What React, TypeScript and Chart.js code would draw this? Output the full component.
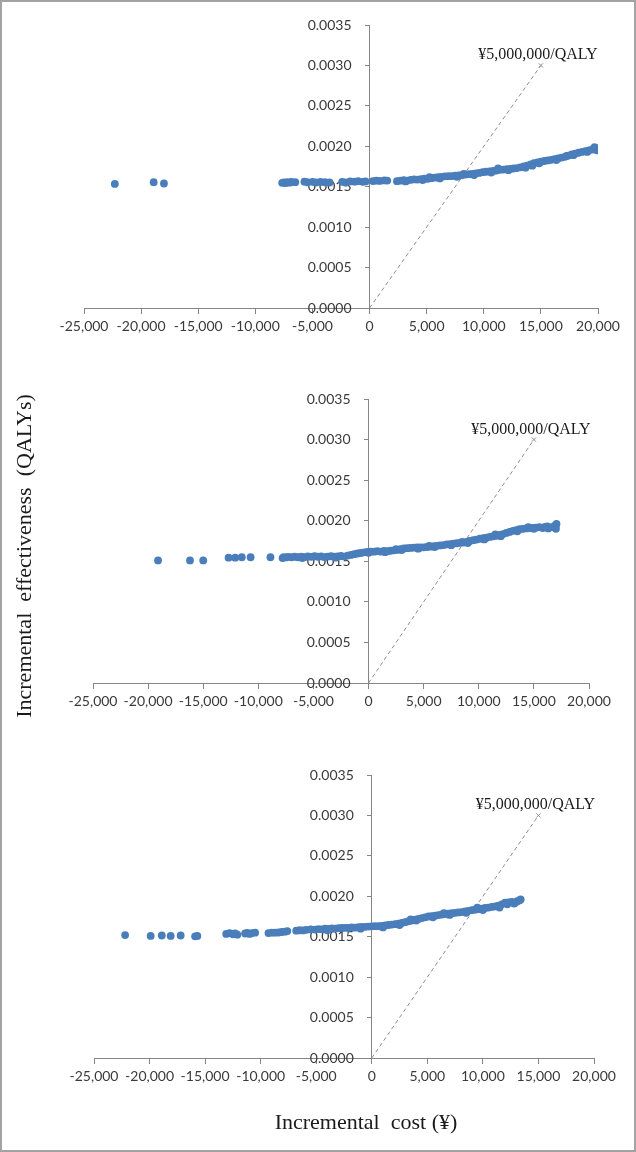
import React, { useEffect, useRef } from "react";
import { Chart, registerables, LinearScale } from "chart.js";

// A linear scale whose labels keep the tick length + padding gap even when the
// axis is positioned at a data value (Chart.js omits that gap for y axes).
class CrossLinearScale extends (LinearScale as any) {
  static id = "crossLinear";
  static defaults = (LinearScale as any).defaults;
  _computeLabelItems(chartArea: any) {
    const items = super._computeLabelItems(chartArea);
    const opts: any = (this as any).options;
    if ((this as any).axis === "y") {
      const gap = (opts.grid.tickLength || 0) + (opts.ticks.padding || 0);
      items.forEach((it: any) => {
        it.options.translation = [it.options.translation[0] - gap, it.options.translation[1]];
      });
    }
    return items;
  }
}

Chart.register(...registerables, CrossLinearScale as any);

// ---------- axes ----------
const COST_MIN = -25000;
const COST_MAX = 20000;
const COST_STEP = 5000;
const QALY_MIN = 0;
const QALY_MAX = 0.0035;
const QALY_STEP = 0.0005;

// ---------- willingness-to-pay threshold line ----------
const THRESHOLD_LABEL = "¥5,000,000/QALY";
const THRESHOLD_COST = [0, 15000];
const THRESHOLD_QALY = [0, 0.003];

const X_TITLE = "Incremental  cost (¥)";
const Y_TITLE = "Incremental  effectiveness  (QALYs)";

// ---------- panel 1 (incremental cost, incremental QALYs) ----------
const panel1Points: [number, number][] = [
  [-22300, 0.001535], [-18900, 0.001556], [-18000, 0.00154],
  [-7650, 0.001548], [-7500, 0.001552], [-7350, 0.001546], [-7200, 0.001555], [-7000, 0.00155],
  [-6850, 0.001558], [-6500, 0.001556], [-5700, 0.001562], [-5450, 0.001555], [-5000, 0.00156],
  [-4700, 0.001552], [-4300, 0.001558], [-3900, 0.001555], [-3500, 0.001552], [-2400, 0.00156],
  [-2100, 0.001552], [-1700, 0.001565], [-1300, 0.001562], [-1000, 0.001568], [-600, 0.00156],
  [-350, 0.001566], [300, 0.00157], [600, 0.001575], [900, 0.001572], [1300, 0.001578], [1550, 0.001576],
  [2400, 0.001568], [2700, 0.001575], [3000, 0.00158], [3300, 0.001576], [3600, 0.001585],
  [3900, 0.00159], [4200, 0.001588], [4500, 0.001595], [4800, 0.0016], [5100, 0.001598],
  [5400, 0.001605], [5700, 0.001612], [6000, 0.001618], [6300, 0.001622], [6600, 0.001628],
  [6900, 0.00163], [7200, 0.001632], [7500, 0.001636], [7800, 0.00164], [8100, 0.001645],
  [8400, 0.00165], [8700, 0.001655], [9000, 0.001658], [9300, 0.001665], [9600, 0.00167],
  [9900, 0.00168], [10200, 0.001685], [10500, 0.00169], [10800, 0.001695], [11100, 0.0017],
  [11400, 0.00171], [11700, 0.001712], [12000, 0.001718], [12300, 0.00172], [12600, 0.001725],
  [12900, 0.00173], [13200, 0.00174], [13500, 0.00175], [13800, 0.001762], [14100, 0.001775],
  [14400, 0.00179], [14700, 0.0018], [15000, 0.00181], [15300, 0.001818], [15600, 0.001825],
  [15900, 0.001832], [16200, 0.00184], [16500, 0.00185], [16800, 0.00186], [17100, 0.00187],
  [17400, 0.001885], [17700, 0.0019], [18000, 0.00191], [18300, 0.00192], [18600, 0.00193],
  [18900, 0.00194], [19200, 0.00195], [19500, 0.00196], [19700, 0.00199], [19800, 0.001975],
  [19900, 0.00195], [19950, 0.00197],
  [3150, 0.001565], [4650, 0.001582], [6150, 0.001602], [7650, 0.001622], [9150, 0.001645],
  [10650, 0.001675], [12150, 0.001705], [13650, 0.001735], [14850, 0.00179], [16350, 0.00183],
  [17850, 0.00189], [19050, 0.00193], [5250, 0.001618], [8250, 0.00166], [11250, 0.001725],
  [14250, 0.00176], [17250, 0.00188],
];

// ---------- panel 2 ----------
const panel2Points: [number, number][] = [
  [-19100, 0.00151], [-16200, 0.00151], [-15000, 0.00151], [-12700, 0.001545], [-12100, 0.001545],
  [-11500, 0.00155], [-10700, 0.00155], [-8900, 0.00155],
  [-7800, 0.00154], [-7700, 0.001552], [-7500, 0.001548], [-7300, 0.001555], [-7000, 0.00155],
  [-6700, 0.001556], [-6400, 0.00155], [-6100, 0.001558], [-5800, 0.001552], [-5500, 0.00156],
  [-5200, 0.001555], [-4900, 0.001562], [-4600, 0.001556], [-4300, 0.00156], [-4000, 0.001552],
  [-3700, 0.001558], [-3400, 0.001562], [-3100, 0.001556], [-2800, 0.00156], [-2500, 0.001565],
  [-2200, 0.001558], [-1900, 0.00157], [-1600, 0.001578], [-1300, 0.001588], [-1000, 0.001596],
  [-700, 0.001602], [-400, 0.00161], [-100, 0.001615], [200, 0.00162], [500, 0.001618],
  [800, 0.001625], [1100, 0.00162], [1400, 0.001628], [1700, 0.001625], [2000, 0.00163],
  [2300, 0.001635], [2600, 0.00164], [2900, 0.00165], [3200, 0.001658], [3500, 0.001662],
  [3800, 0.001665], [4100, 0.001668], [4400, 0.00167], [4700, 0.00167], [5000, 0.001672],
  [5300, 0.001676], [5600, 0.00168], [5900, 0.001685], [6200, 0.00169], [6500, 0.001695],
  [6800, 0.0017], [7100, 0.001708], [7400, 0.001712], [7700, 0.001718], [8000, 0.001722],
  [8300, 0.001728], [8600, 0.00173], [8900, 0.00174], [9200, 0.00175], [9500, 0.00176],
  [9800, 0.001768], [10100, 0.001778], [10400, 0.001785], [10700, 0.00179], [11000, 0.0018],
  [11300, 0.001808], [11600, 0.001815], [11900, 0.001825], [12200, 0.001835], [12500, 0.00185],
  [12800, 0.001862], [13100, 0.001875], [13400, 0.001885], [13700, 0.001895], [14000, 0.0019],
  [14300, 0.001905], [14600, 0.00191], [14900, 0.001912], [15200, 0.001915], [15500, 0.00192],
  [15800, 0.00191], [16000, 0.001925], [16300, 0.001905], [16600, 0.00192], [16900, 0.00194],
  [17000, 0.0019], [17050, 0.00196], [16950, 0.00192],
  [-6000, 0.00154], [-3000, 0.001545], [0, 0.001605], [1500, 0.001612], [3000, 0.001638],
  [4500, 0.001655], [6000, 0.001675], [7500, 0.001698], [9000, 0.001725], [10500, 0.00177],
  [12000, 0.00181], [13500, 0.00187], [15000, 0.0019], [16200, 0.00193], [2500, 0.00165],
  [5500, 0.00169], [8500, 0.00174], [11500, 0.00183], [14500, 0.00192],
];

// ---------- panel 3 ----------
const panel3Points: [number, number][] = [
  [-22200, 0.00152], [-19900, 0.00151], [-18900, 0.001515], [-18100, 0.00151], [-17200, 0.001515],
  [-15900, 0.001505], [-15700, 0.00151],
  [-13100, 0.001535], [-12800, 0.001545], [-12500, 0.00153], [-12300, 0.00154], [-12100, 0.001525],
  [-11400, 0.00154], [-11200, 0.001548], [-11000, 0.001535], [-10800, 0.001545], [-10500, 0.00155],
  [-9300, 0.001545], [-9000, 0.00155], [-8700, 0.00155], [-8400, 0.001552], [-8100, 0.001558],
  [-7800, 0.001562], [-7600, 0.00157], [-6800, 0.001575], [-6500, 0.00158], [-6200, 0.001578],
  [-5900, 0.001585], [-5500, 0.00159], [-5100, 0.001588], [-4800, 0.001595], [-4500, 0.001592],
  [-4200, 0.0016], [-3900, 0.001598], [-3600, 0.001602], [-3300, 0.0016], [-3000, 0.001605],
  [-2700, 0.001608], [-2400, 0.00161], [-2100, 0.001608], [-1800, 0.001615], [-1500, 0.001612],
  [-1200, 0.001618], [-900, 0.00162], [-600, 0.001622], [-300, 0.001625], [0, 0.001628],
  [300, 0.00163], [600, 0.001632], [900, 0.001635], [1200, 0.00164], [1500, 0.001645],
  [1800, 0.00165], [2100, 0.001655], [2400, 0.001662], [2700, 0.00167], [3000, 0.00168],
  [3300, 0.00169], [3600, 0.0017], [3900, 0.00171], [4200, 0.00172], [4500, 0.00173],
  [4800, 0.00174], [5100, 0.00175], [5400, 0.001755], [5700, 0.00176], [6000, 0.001768],
  [6300, 0.001775], [6600, 0.00178], [6900, 0.001785], [7200, 0.00179], [7500, 0.001795],
  [7800, 0.0018], [8100, 0.001805], [8400, 0.001812], [8700, 0.00182], [9000, 0.001828],
  [9300, 0.001835], [9600, 0.00184], [9900, 0.001848], [10200, 0.001855], [10500, 0.00186],
  [10800, 0.001868], [11100, 0.001875], [11400, 0.001885], [11700, 0.0019], [12000, 0.00192],
  [12300, 0.001925], [12600, 0.00193], [12900, 0.00192], [13100, 0.00194], [13300, 0.00195],
  [13400, 0.00196], [12800, 0.00191],
  [-4000, 0.00158], [-1000, 0.0016], [1000, 0.001615], [2500, 0.001645], [4000, 0.0017],
  [5500, 0.00174], [7000, 0.00177], [8500, 0.001795], [10000, 0.00183], [11500, 0.00186],
  [3500, 0.001715], [6500, 0.001792], [9500, 0.00186], [12200, 0.0019],
];

const PANELS = [
  { points: panel1Points, top: 0, height: 360, pad: { left: 84, right: 38, top: 25, bottom: 52 } },
  { points: panel2Points, top: 360, height: 375, pad: { left: 93, right: 47, top: 39, bottom: 52 } },
  { points: panel3Points, top: 735, height: 417, pad: { left: 94, right: 42, top: 40, bottom: 94 } },
];

const AXIS_COLOR = "#858585";
const TICK_FONT = { family: "Lato, 'Open Sans', sans-serif", size: 14 };
const TICK_COLOR = "#3a3a3a";
const DOT_COLOR = "#4a7ebb";
const SERIF = "'Liberation Serif', 'Times New Roman', serif";

const thresholdLabelPlugin = {
  id: "thresholdLabel",
  afterDatasetsDraw(chart: any) {
    const { ctx, scales } = chart;
    const x = scales.x.getPixelForValue(THRESHOLD_COST[1]);
    const y = scales.y.getPixelForValue(THRESHOLD_QALY[1]);
    ctx.save();
    ctx.font = "16px " + SERIF;
    ctx.fillStyle = "#1a1a1a";
    ctx.textAlign = "center";
    ctx.textBaseline = "alphabetic";
    ctx.fillText(THRESHOLD_LABEL, x - 3, y - 6);
    ctx.restore();
  },
};

function Panel({ points, top, height, pad }: any) {
  const ref = useRef<HTMLCanvasElement | null>(null);
  useEffect(() => {
    if (!ref.current) return;
    const chart = new Chart(ref.current, {
      type: "scatter",
      data: {
        datasets: [
          {
            type: "line",
            data: THRESHOLD_COST.map((c, i) => ({ x: c, y: THRESHOLD_QALY[i] })),
            borderColor: "#8e8e8e",
            borderWidth: 1,
            borderDash: [4, 3],
            pointRadius: [0, 3],
            pointStyle: "crossRot",
            pointBorderColor: "#8e8e8e",
            pointBorderWidth: 1,
            fill: false,
            order: 2,
          } as any,
          {
            type: "scatter",
            data: points.map((p: [number, number]) => ({ x: p[0], y: p[1] })),
            backgroundColor: DOT_COLOR,
            borderColor: DOT_COLOR,
            borderWidth: 0,
            pointRadius: 3.9,
            order: 1,
          },
        ],
      },
      options: {
        responsive: false,
        animation: false,
        layout: { padding: pad },
        plugins: { legend: { display: false }, tooltip: { enabled: false } },
        scales: {
          x: {
            type: "linear",
            min: COST_MIN,
            max: COST_MAX,
            position: { y: 0 } as any,
            grid: { drawOnChartArea: false, drawTicks: true, tickLength: 5, color: AXIS_COLOR },
            border: { display: true, color: AXIS_COLOR, width: 1 },
            ticks: {
              stepSize: COST_STEP,
              autoSkip: false,
              maxRotation: 0,
              minRotation: 0,
              padding: 5,
              color: TICK_COLOR,
              font: TICK_FONT,
              callback: (v: any) => Number(v).toLocaleString("en-US"),
            },
          },
          y: {
            type: "crossLinear",
            min: QALY_MIN,
            max: QALY_MAX,
            position: { x: 0 } as any,
            grid: { drawOnChartArea: false, drawTicks: true, tickLength: 4, color: AXIS_COLOR },
            border: { display: true, color: AXIS_COLOR, width: 1 },
            ticks: {
              stepSize: QALY_STEP,
              padding: 14,
              color: TICK_COLOR,
              font: TICK_FONT,
              callback: (v: any) => Number(v).toFixed(4),
            },
          } as any,
        },
      },
      plugins: [thresholdLabelPlugin],
    });
    return () => chart.destroy();
  }, []);
  return (
    <canvas
      ref={ref}
      width={636}
      height={height}
      style={{ position: "absolute", left: 0, top, width: 636, height }}
    />
  );
}

export default function App() {
  useEffect(() => {
    document.body.style.margin = "0";
  }, []);
  return (
    <div style={{ position: "absolute", left: 0, top: 0, width: 636, height: 1152, background: "#fff", overflow: "hidden" }}>
      {PANELS.map((p, i) => (
        <Panel key={i} {...p} />
      ))}
      <div
        style={{
          position: "absolute",
          left: 366,
          top: 1122,
          transform: "translate(-50%, -50%)",
          whiteSpace: "pre",
          fontFamily: SERIF,
          fontSize: 22,
          color: "#1a1a1a",
        }}
      >
        {X_TITLE}
      </div>
      <div
        style={{
          position: "absolute",
          left: 24,
          top: 556,
          transform: "translate(-50%, -50%) rotate(-90deg)",
          whiteSpace: "pre",
          fontFamily: SERIF,
          fontSize: 22,
          color: "#1a1a1a",
        }}
      >
        {Y_TITLE}
      </div>
      <div
        style={{
          position: "absolute",
          left: 0,
          top: 0,
          width: 636,
          height: 1152,
          boxSizing: "border-box",
          border: "2px solid #a3a3a3",
          pointerEvents: "none",
        }}
      />
    </div>
  );
}
